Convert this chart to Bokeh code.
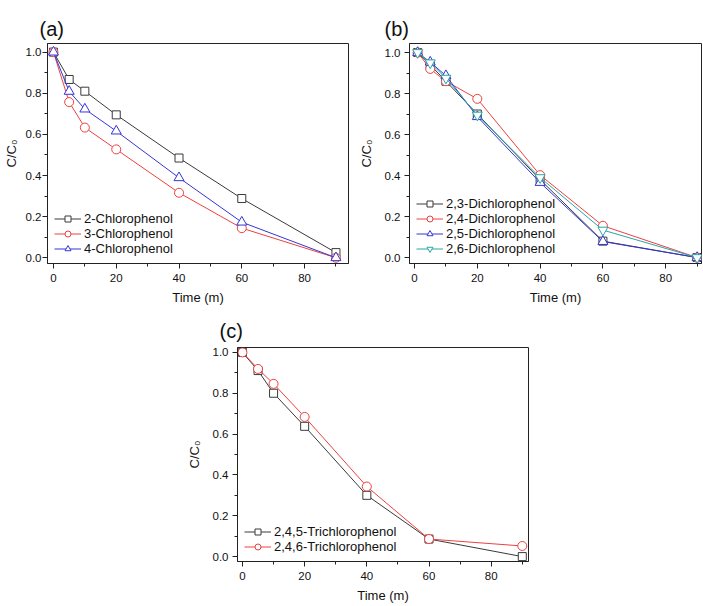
from bokeh.plotting import figure
from bokeh.layouts import column, row
from bokeh.models import Spacer, SingleIntervalTicker, Range1d, Legend, LegendItem, CustomJSTickFormatter
from bokeh.embed import file_html
from bokeh.resources import INLINE

# ---- data ----
time_a = [0, 5, 10, 20, 40, 60, 90]
cp2 = [1.0, 0.867, 0.81, 0.695, 0.485, 0.288, 0.025]
cp3 = [1.0, 0.757, 0.633, 0.527, 0.316, 0.144, 0.0]
cp4 = [1.0, 0.809, 0.723, 0.616, 0.389, 0.173, 0.0]

time_b = [1, 5, 10, 20, 40, 60, 90]
dcp23 = [1.0, 0.94, 0.86, 0.70, 0.38, 0.08, 0.0]
dcp24 = [1.0, 0.92, 0.86, 0.774, 0.402, 0.155, 0.0]
dcp25 = [1.0, 0.953, 0.887, 0.687, 0.366, 0.078, 0.0]
dcp26 = [1.0, 0.95, 0.875, 0.695, 0.39, 0.134, 0.0]

time_c = [0, 5, 10, 20, 40, 60, 90]
tcp245 = [1.0, 0.911, 0.80, 0.638, 0.30, 0.086, 0.0]
tcp246 = [1.0, 0.919, 0.846, 0.684, 0.343, 0.086, 0.052]

BLACK = "#3a3a3a"
RED = "#ee4040"
BLUE = "#3535d5"
TEAL = "#2aa5a5"
FONT = "Liberation Sans"


def make_fig(title, toff, tso, fw, fh, xr, yr, bl, br, bt, bb, ylab_so, ytick_so):
    p = figure(frame_width=fw, frame_height=fh, x_range=Range1d(*xr), y_range=Range1d(*yr),
               output_backend="svg", toolbar_location=None,
               min_border_left=bl, min_border_right=br, min_border_top=bt, min_border_bottom=bb)
    p.title.text = title
    p.title.text_font = FONT
    p.title.text_font_size = "20px"
    p.title.text_font_style = "normal"
    p.title.align = "left"
    p.title.offset = toff
    p.title.standoff = tso
    p.title.text_color = "#111111"
    p.xgrid.visible = False
    p.ygrid.visible = False
    p.outline_line_color = "#222222"
    p.outline_line_width = 1
    p.xaxis.ticker = SingleIntervalTicker(interval=20, num_minor_ticks=2)
    p.yaxis.ticker = SingleIntervalTicker(interval=0.2, num_minor_ticks=2)
    p.yaxis.formatter = CustomJSTickFormatter(code="return tick.toFixed(1);")
    p.xaxis.axis_label = "Time (m)"
    p.yaxis.axis_label = "C/C\u2080"
    for ax in (p.xaxis[0], p.yaxis[0]):
        ax.axis_line_color = "#222222"
        ax.major_tick_line_color = "#222222"
        ax.minor_tick_line_color = "#222222"
        ax.major_tick_out = 5
        ax.major_tick_in = 0
        ax.minor_tick_out = 3
        ax.minor_tick_in = 0
        ax.major_label_text_font = FONT
        ax.major_label_text_font_size = "11.5px"
        ax.major_label_text_color = "#111111"
        ax.axis_label_text_font = FONT
        ax.axis_label_text_font_size = "13px"
        ax.axis_label_text_font_style = "normal"
        ax.axis_label_text_color = "#111111"
    p.xaxis.major_label_standoff = 5
    p.xaxis.axis_label_standoff = 5
    p.yaxis.major_label_standoff = ytick_so
    p.yaxis.axis_label_standoff = ylab_so
    return p


def add_series(p, x, y, color, marker, size):
    ln = p.line(x, y, line_color=color, line_width=1)
    mk = p.scatter(x, y, marker=marker, size=size, line_color=color, line_width=1,
                   fill_color="white")
    return [ln, mk]


def add_legend(p, items):
    leg = Legend(items=[LegendItem(label=l, renderers=r) for l, r in items],
                 location="bottom_left", margin=0, padding=7, spacing=0,
                 glyph_width=27, glyph_height=15, label_height=15, label_standoff=3,
                 border_line_alpha=0, background_fill_alpha=0,
                 label_text_font=FONT, label_text_font_size="13px", label_text_color="#111111")
    p.add_layout(leg, "center")


# (a)
pa = make_fig("(a)", -8, 8, 301, 220, (-1.9, 94), (-0.028, 1.042), 46, 6, 43, 42, 4, 1)
ra = [("2-Chlorophenol", add_series(pa, time_a, cp2, BLACK, "square", 8)),
      ("3-Chlorophenol", add_series(pa, time_a, cp3, RED, "circle", 9)),
      ("4-Chlorophenol", add_series(pa, time_a, cp4, BLUE, "triangle", 10))]
add_legend(pa, ra)

# (b)
pb = make_fig("(b)", -25, 8, 292, 220, (-1.6, 91.4), (-0.029, 1.044), 55, 3, 43, 42, 8, 4)
rb = [("2,3-Dichlorophenol", add_series(pb, time_b, dcp23, BLACK, "square", 8)),
      ("2,4-Dichlorophenol", add_series(pb, time_b, dcp24, RED, "circle", 9)),
      ("2,5-Dichlorophenol", add_series(pb, time_b, dcp25, BLUE, "triangle", 10)),
      ("2,6-Dichlorophenol", add_series(pb, time_b, dcp26, TEAL, "inverted_triangle", 10))]
add_legend(pb, rb)

# (c)
pc = make_fig("(c)", -18, 12, 291, 214, (-1.6, 92), (-0.024, 1.024), 57, 10, 40, 40, 8, 4)
rc = [("2,4,5-Trichlorophenol", add_series(pc, time_c, tcp245, BLACK, "square", 8)),
      ("2,4,6-Trichlorophenol", add_series(pc, time_c, tcp246, RED, "circle", 9))]
add_legend(pc, rc)

layout = column(row(pa, pb), row(Spacer(width=180, height=10), pc))

open("out.html", "w").write(file_html(layout, INLINE))
